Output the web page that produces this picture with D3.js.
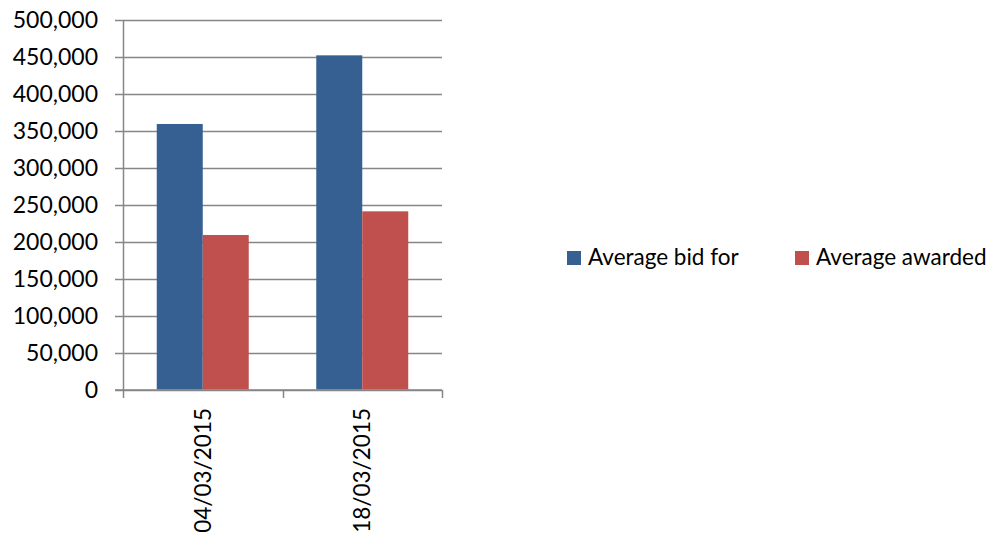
<!doctype html>
<html>
<head>
	<meta charset="utf-8">
	<title>Average bid for / awarded</title>
	<style>
		body { margin: 0; background: #fff; }
		text { font-family: Lato, "Open Sans", sans-serif; fill: #000; }
	</style>
</head>
<body>

<svg width="994" height="535"></svg>
<script src="https://d3js.org/d3.v7.min.js"></script>
<script>
var dates = ["04/03/2015", "18/03/2015"];
var seriesNames = ["Average bid for", "Average awarded"];
var bidFor = [359300, 452200];
var awarded = [209100, 241100];
var yTicks = [0, 50000, 100000, 150000, 200000, 250000, 300000, 350000, 400000, 450000, 500000];
var colors = ["#376092", "#C0504D"];

var svg = d3.select("svg");

var x = d3.scaleBand()
	.domain(dates)
	.range([123, 442])
	.paddingInner(0)
	.paddingOuter(0);

var x1 = d3.scaleBand()
	.domain(seriesNames)
	.range([0, x.bandwidth()])
	.paddingInner(0)
	.paddingOuter(0.734);

var y = d3.scaleLinear()
	.domain([0, 500000])
	.range([389.5, 20]);

// gridlines
svg.append("g")
	.selectAll("line")
	.data(yTicks)
	.enter()
	.append("line")
	.attr("x1", 115)
	.attr("x2", 442)
	.attr("y1", function(d){ return Math.round(y(d)) + 0.5; })
	.attr("y2", function(d){ return Math.round(y(d)) + 0.5; })
	.style("stroke", "#868686")
	.style("stroke-width", "1.5px");

// y labels
svg.append("g")
	.selectAll("text")
	.data(yTicks)
	.enter()
	.append("text")
	.attr("x", 98)
	.attr("y", function(d){ return y(d); })
	.attr("dy", "0.35em")
	.attr("text-anchor", "end")
	.attr("font-size", 23)
	.text(function(d){ return d3.format(",")(d); });

// bars
var rows = dates.map(function(d, i){ return {date: d, values: [bidFor[i], awarded[i]]}; });

var groups = svg.selectAll(".grp")
	.data(rows)
	.enter()
	.append("g")
	.attr("transform", function(d){ return "translate(" + x(d.date) + ",0)"; });

groups.selectAll("rect")
	.data(function(d){ return d.values.map(function(v, j){ return {name: seriesNames[j], v: v, c: colors[j]}; }); })
	.enter()
	.append("rect")
	.attr("x", function(d){ return x1(d.name); })
	.attr("width", x1.bandwidth())
	.attr("y", function(d){ return y(d.v); })
	.attr("height", function(d){ return y(0) - y(d.v); })
	.style("fill", function(d){ return d.c; });

// axes lines
svg.append("line")
	.attr("x1", 123.5).attr("x2", 123.5)
	.attr("y1", 20).attr("y2", 398)
	.style("stroke", "#868686").style("stroke-width", "1.5px");

svg.append("line")
	.attr("x1", 115).attr("x2", 442)
	.attr("y1", 390).attr("y2", 390)
	.style("stroke", "#868686").style("stroke-width", "1.5px");

svg.append("g")
	.selectAll("line")
	.data(dates.map(function(d){ return x(d) + x.bandwidth(); }))
	.enter()
	.append("line")
	.attr("x1", function(d){ return Math.round(d) + 0.5; })
	.attr("x2", function(d){ return Math.round(d) + 0.5; })
	.attr("y1", 390)
	.attr("y2", 398)
	.style("stroke", "#868686").style("stroke-width", "1.5px");

// category labels
svg.append("g")
	.selectAll("text")
	.data(dates)
	.enter()
	.append("text")
	.attr("transform", function(d){ return "translate(" + (x(d) + x.bandwidth() / 2) + ",408) rotate(-90)"; })
	.attr("dy", "0.35em")
	.attr("text-anchor", "end")
	.attr("font-size", 22.5)
	.text(function(d){ return d; });

// legend
var legendX = [567, 795];
var legend = svg.selectAll(".leg")
	.data(seriesNames)
	.enter()
	.append("g")
	.attr("transform", function(d, i){ return "translate(" + legendX[i] + ",251)"; });

legend.append("rect")
	.attr("width", 14)
	.attr("height", 14)
	.style("fill", function(d, i){ return colors[i]; });

legend.append("text")
	.attr("x", 21)
	.attr("y", 14)
	.attr("font-size", 22.5)
	.text(function(d){ return d; });
</script>
</body>
</html>
